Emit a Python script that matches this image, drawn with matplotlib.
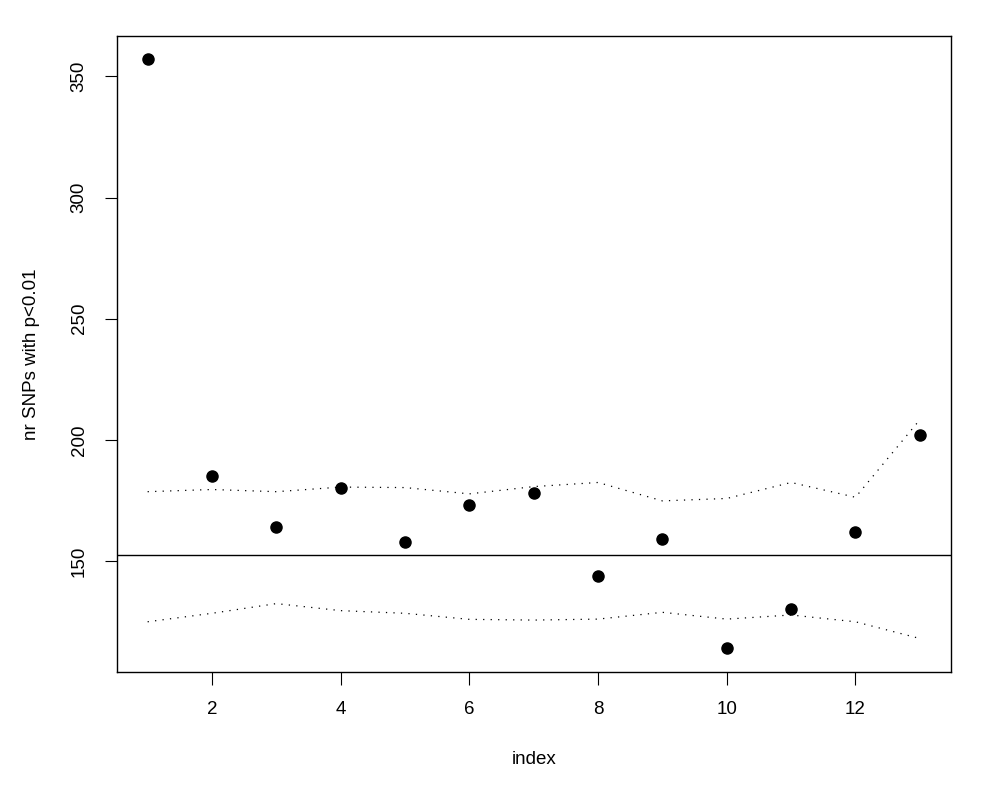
import matplotlib
matplotlib.use("Agg")
import matplotlib.pyplot as plt

plt.rcParams['font.family'] = ['Liberation Sans', 'DejaVu Sans']

index = list(range(1, 14))
nr_snps = [357, 185, 164, 180, 158, 173, 178, 144, 159, 114, 130, 162, 202]
upper = [178.6, 179.5, 178.6, 180.5, 180.3, 177.7, 180.7, 182.4, 174.8, 175.8, 182.4, 176.3, 208.3]
lower = [124.9, 128.4, 132.4, 129.5, 128.4, 125.9, 125.6, 126.0, 128.8, 126.0, 127.7, 124.9, 118.0]
hline = 152.6

fig = plt.figure(figsize=(9.85, 8), dpi=100)
ax = fig.add_axes([0.1185, 0.1604, 0.8467, 0.7946])

ax.plot(index, nr_snps, 'o', color='black', markersize=8)
ax.axhline(hline, color='black', lw=1.0)
ax.plot(index, upper, color='black', lw=0.9, linestyle=(0, (1, 5)))
ax.plot(index, lower, color='black', lw=0.9, linestyle=(0, (1, 5)))

ax.set_xlim(0.52, 13.48)
ax.set_ylim(104.3, 366.7)
ax.set_xticks([2, 4, 6, 8, 10, 12])
ax.set_yticks([150, 200, 250, 300, 350])
for lab in ax.get_yticklabels():
    lab.set_rotation(90)
    lab.set_va('center')

ax.tick_params(direction='out', length=9, width=0.8, labelsize=13.5, pad=12)
for s in ax.spines.values():
    s.set_linewidth(1.0)

ax.set_xlabel("index", fontsize=13.5, labelpad=24)
ax.set_ylabel("nr SNPs with p<0.01", fontsize=13.5, labelpad=22)

fig.savefig("out.png", dpi=100)
